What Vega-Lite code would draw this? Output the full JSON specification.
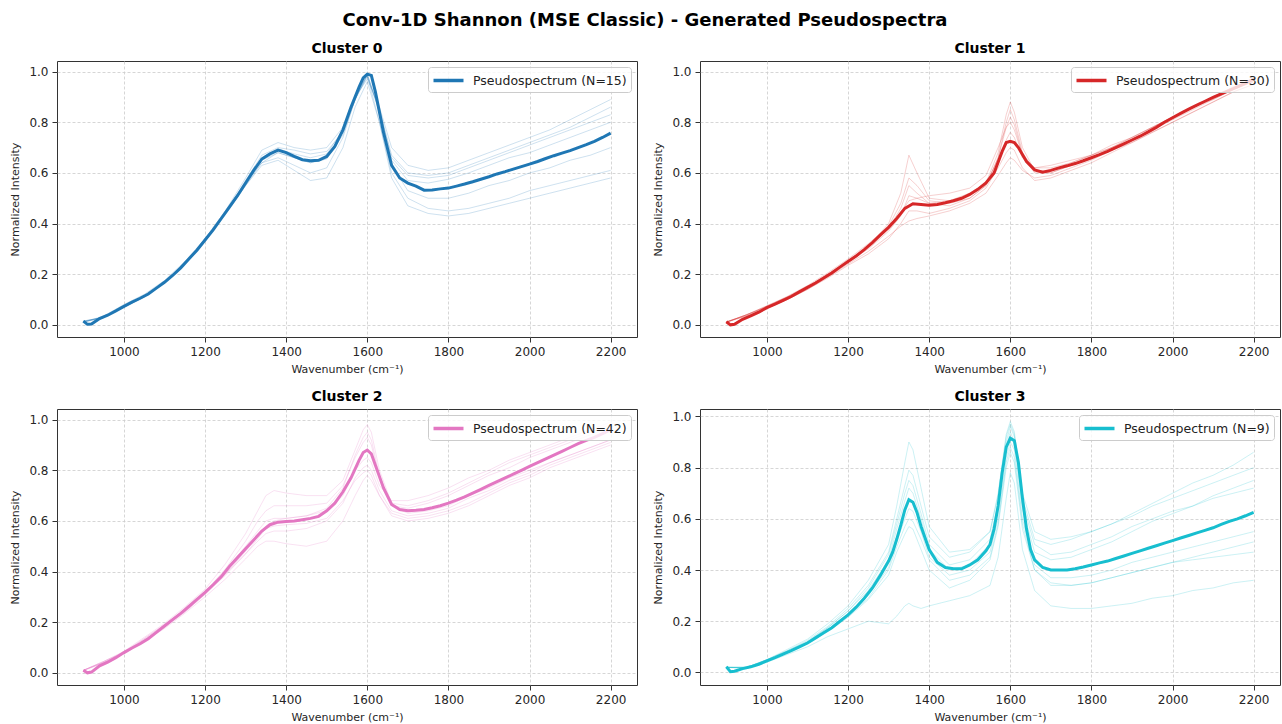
{
"$schema": "https://vega.github.io/schema/vega-lite/v6.json",
"background": "white",
"padding": {"left": 9, "top": 11, "right": 2, "bottom": 2},
"title": {"text": "Conv-1D Shannon (MSE Classic) - Generated Pseudospectra", "fontSize": 18, "anchor": "middle", "offset": 12},
"columns": 2,
"spacing": {"row": 14, "column": 14},
"resolve": {"scale": {"color": "independent"}, "legend": {"color": "independent"}},
"datasets": {
"m0": [{"x":900,"y":0.015},{"x":910,"y":0.002},{"x":920,"y":0.003},{"x":940,"y":0.025},{"x":960,"y":0.038},{"x":980,"y":0.055},{"x":1000,"y":0.073},{"x":1020,"y":0.09},{"x":1040,"y":0.105},{"x":1060,"y":0.122},{"x":1080,"y":0.145},{"x":1100,"y":0.168},{"x":1120,"y":0.195},{"x":1140,"y":0.225},{"x":1160,"y":0.26},{"x":1180,"y":0.295},{"x":1200,"y":0.335},{"x":1220,"y":0.375},{"x":1240,"y":0.42},{"x":1260,"y":0.465},{"x":1280,"y":0.51},{"x":1300,"y":0.56},{"x":1320,"y":0.61},{"x":1340,"y":0.655},{"x":1360,"y":0.675},{"x":1380,"y":0.69},{"x":1400,"y":0.68},{"x":1420,"y":0.665},{"x":1440,"y":0.652},{"x":1460,"y":0.648},{"x":1480,"y":0.65},{"x":1500,"y":0.665},{"x":1520,"y":0.705},{"x":1540,"y":0.77},{"x":1560,"y":0.86},{"x":1580,"y":0.94},{"x":1590,"y":0.975},{"x":1600,"y":0.99},{"x":1610,"y":0.985},{"x":1620,"y":0.92},{"x":1640,"y":0.76},{"x":1660,"y":0.63},{"x":1680,"y":0.58},{"x":1700,"y":0.56},{"x":1720,"y":0.548},{"x":1740,"y":0.532},{"x":1760,"y":0.533},{"x":1780,"y":0.537},{"x":1800,"y":0.54},{"x":1820,"y":0.548},{"x":1840,"y":0.556},{"x":1860,"y":0.565},{"x":1880,"y":0.575},{"x":1900,"y":0.585},{"x":1920,"y":0.596},{"x":1940,"y":0.605},{"x":1960,"y":0.615},{"x":1980,"y":0.625},{"x":2000,"y":0.635},{"x":2020,"y":0.645},{"x":2040,"y":0.657},{"x":2060,"y":0.668},{"x":2080,"y":0.678},{"x":2100,"y":0.688},{"x":2120,"y":0.7},{"x":2140,"y":0.712},{"x":2160,"y":0.725},{"x":2180,"y":0.74},{"x":2200,"y":0.757}],
"f0": [
{"s":"a","x":900,"y":0.01},{"s":"a","x":950,"y":0.035},{"s":"a","x":1000,"y":0.08},{"s":"a","x":1050,"y":0.12},{"s":"a","x":1100,"y":0.175},{"s":"a","x":1150,"y":0.25},{"s":"a","x":1200,"y":0.34},{"s":"a","x":1250,"y":0.45},{"s":"a","x":1300,"y":0.58},{"s":"a","x":1340,"y":0.69},{"s":"a","x":1380,"y":0.72},{"s":"a","x":1420,"y":0.7},{"s":"a","x":1460,"y":0.69},{"s":"a","x":1500,"y":0.7},{"s":"a","x":1540,"y":0.78},{"s":"a","x":1570,"y":0.9},{"s":"a","x":1600,"y":0.97},{"s":"a","x":1630,"y":0.86},{"s":"a","x":1660,"y":0.7},{"s":"a","x":1700,"y":0.63},{"s":"a","x":1750,"y":0.61},{"s":"a","x":1800,"y":0.62},{"s":"a","x":1850,"y":0.65},{"s":"a","x":1900,"y":0.68},{"s":"a","x":1950,"y":0.71},{"s":"a","x":2000,"y":0.74},{"s":"a","x":2050,"y":0.77},{"s":"a","x":2100,"y":0.81},{"s":"a","x":2150,"y":0.85},{"s":"a","x":2200,"y":0.89},
{"s":"b","x":900,"y":0.012},{"s":"b","x":950,"y":0.03},{"s":"b","x":1000,"y":0.075},{"s":"b","x":1050,"y":0.115},{"s":"b","x":1100,"y":0.17},{"s":"b","x":1150,"y":0.245},{"s":"b","x":1200,"y":0.335},{"s":"b","x":1250,"y":0.44},{"s":"b","x":1300,"y":0.57},{"s":"b","x":1340,"y":0.67},{"s":"b","x":1380,"y":0.7},{"s":"b","x":1420,"y":0.69},{"s":"b","x":1460,"y":0.675},{"s":"b","x":1500,"y":0.685},{"s":"b","x":1540,"y":0.76},{"s":"b","x":1570,"y":0.89},{"s":"b","x":1600,"y":0.98},{"s":"b","x":1630,"y":0.85},{"s":"b","x":1660,"y":0.67},{"s":"b","x":1700,"y":0.6},{"s":"b","x":1750,"y":0.59},{"s":"b","x":1800,"y":0.6},{"s":"b","x":1850,"y":0.63},{"s":"b","x":1900,"y":0.66},{"s":"b","x":1950,"y":0.69},{"s":"b","x":2000,"y":0.72},{"s":"b","x":2050,"y":0.75},{"s":"b","x":2100,"y":0.78},{"s":"b","x":2150,"y":0.82},{"s":"b","x":2200,"y":0.86},
{"s":"c","x":900,"y":0.015},{"s":"c","x":950,"y":0.03},{"s":"c","x":1000,"y":0.07},{"s":"c","x":1050,"y":0.11},{"s":"c","x":1100,"y":0.165},{"s":"c","x":1150,"y":0.24},{"s":"c","x":1200,"y":0.33},{"s":"c","x":1250,"y":0.44},{"s":"c","x":1300,"y":0.55},{"s":"c","x":1340,"y":0.64},{"s":"c","x":1380,"y":0.68},{"s":"c","x":1420,"y":0.66},{"s":"c","x":1460,"y":0.64},{"s":"c","x":1500,"y":0.655},{"s":"c","x":1540,"y":0.75},{"s":"c","x":1570,"y":0.89},{"s":"c","x":1600,"y":0.99},{"s":"c","x":1630,"y":0.84},{"s":"c","x":1660,"y":0.65},{"s":"c","x":1700,"y":0.57},{"s":"c","x":1750,"y":0.56},{"s":"c","x":1800,"y":0.575},{"s":"c","x":1850,"y":0.6},{"s":"c","x":1900,"y":0.63},{"s":"c","x":1950,"y":0.66},{"s":"c","x":2000,"y":0.68},{"s":"c","x":2050,"y":0.71},{"s":"c","x":2100,"y":0.74},{"s":"c","x":2150,"y":0.77},{"s":"c","x":2200,"y":0.8},
{"s":"d","x":900,"y":0.01},{"s":"d","x":950,"y":0.03},{"s":"d","x":1000,"y":0.07},{"s":"d","x":1050,"y":0.11},{"s":"d","x":1100,"y":0.165},{"s":"d","x":1150,"y":0.245},{"s":"d","x":1200,"y":0.34},{"s":"d","x":1250,"y":0.45},{"s":"d","x":1300,"y":0.56},{"s":"d","x":1340,"y":0.64},{"s":"d","x":1380,"y":0.66},{"s":"d","x":1420,"y":0.63},{"s":"d","x":1460,"y":0.6},{"s":"d","x":1500,"y":0.62},{"s":"d","x":1540,"y":0.74},{"s":"d","x":1570,"y":0.89},{"s":"d","x":1600,"y":0.985},{"s":"d","x":1630,"y":0.8},{"s":"d","x":1660,"y":0.58},{"s":"d","x":1700,"y":0.47},{"s":"d","x":1750,"y":0.44},{"s":"d","x":1800,"y":0.43},{"s":"d","x":1850,"y":0.44},{"s":"d","x":1900,"y":0.46},{"s":"d","x":1950,"y":0.48},{"s":"d","x":2000,"y":0.5},{"s":"d","x":2050,"y":0.52},{"s":"d","x":2100,"y":0.54},{"s":"d","x":2150,"y":0.56},{"s":"d","x":2200,"y":0.58},
{"s":"e","x":900,"y":0.012},{"s":"e","x":950,"y":0.028},{"s":"e","x":1000,"y":0.072},{"s":"e","x":1050,"y":0.112},{"s":"e","x":1100,"y":0.168},{"s":"e","x":1150,"y":0.24},{"s":"e","x":1200,"y":0.33},{"s":"e","x":1250,"y":0.435},{"s":"e","x":1300,"y":0.55},{"s":"e","x":1340,"y":0.63},{"s":"e","x":1380,"y":0.65},{"s":"e","x":1420,"y":0.61},{"s":"e","x":1460,"y":0.57},{"s":"e","x":1500,"y":0.58},{"s":"e","x":1540,"y":0.7},{"s":"e","x":1570,"y":0.86},{"s":"e","x":1600,"y":0.96},{"s":"e","x":1630,"y":0.8},{"s":"e","x":1660,"y":0.6},{"s":"e","x":1700,"y":0.5},{"s":"e","x":1750,"y":0.46},{"s":"e","x":1800,"y":0.45},{"s":"e","x":1850,"y":0.46},{"s":"e","x":1900,"y":0.48},{"s":"e","x":1950,"y":0.5},{"s":"e","x":2000,"y":0.53},{"s":"e","x":2050,"y":0.55},{"s":"e","x":2100,"y":0.57},{"s":"e","x":2150,"y":0.59},{"s":"e","x":2200,"y":0.61},
{"s":"f","x":900,"y":0.015},{"s":"f","x":950,"y":0.03},{"s":"f","x":1000,"y":0.074},{"s":"f","x":1050,"y":0.114},{"s":"f","x":1100,"y":0.17},{"s":"f","x":1150,"y":0.244},{"s":"f","x":1200,"y":0.336},{"s":"f","x":1250,"y":0.445},{"s":"f","x":1300,"y":0.565},{"s":"f","x":1340,"y":0.66},{"s":"f","x":1380,"y":0.695},{"s":"f","x":1420,"y":0.675},{"s":"f","x":1460,"y":0.66},{"s":"f","x":1500,"y":0.675},{"s":"f","x":1540,"y":0.77},{"s":"f","x":1570,"y":0.9},{"s":"f","x":1600,"y":0.99},{"s":"f","x":1630,"y":0.85},{"s":"f","x":1660,"y":0.66},{"s":"f","x":1700,"y":0.59},{"s":"f","x":1750,"y":0.58},{"s":"f","x":1800,"y":0.59},{"s":"f","x":1850,"y":0.62},{"s":"f","x":1900,"y":0.65},{"s":"f","x":1950,"y":0.68},{"s":"f","x":2000,"y":0.71},{"s":"f","x":2050,"y":0.74},{"s":"f","x":2100,"y":0.77},{"s":"f","x":2150,"y":0.8},{"s":"f","x":2200,"y":0.83},
{"s":"g","x":900,"y":0.013},{"s":"g","x":950,"y":0.03},{"s":"g","x":1000,"y":0.073},{"s":"g","x":1050,"y":0.113},{"s":"g","x":1100,"y":0.167},{"s":"g","x":1150,"y":0.24},{"s":"g","x":1200,"y":0.335},{"s":"g","x":1250,"y":0.44},{"s":"g","x":1300,"y":0.555},{"s":"g","x":1340,"y":0.65},{"s":"g","x":1380,"y":0.68},{"s":"g","x":1420,"y":0.66},{"s":"g","x":1460,"y":0.64},{"s":"g","x":1500,"y":0.66},{"s":"g","x":1540,"y":0.76},{"s":"g","x":1570,"y":0.9},{"s":"g","x":1600,"y":0.985},{"s":"g","x":1630,"y":0.84},{"s":"g","x":1660,"y":0.63},{"s":"g","x":1700,"y":0.53},{"s":"g","x":1750,"y":0.5},{"s":"g","x":1800,"y":0.5},{"s":"g","x":1850,"y":0.52},{"s":"g","x":1900,"y":0.55},{"s":"g","x":1950,"y":0.57},{"s":"g","x":2000,"y":0.6},{"s":"g","x":2050,"y":0.62},{"s":"g","x":2100,"y":0.65},{"s":"g","x":2150,"y":0.67},{"s":"g","x":2200,"y":0.7}
],
"m1": [{"x":900,"y":0.012},{"x":910,"y":0.0},{"x":920,"y":0.002},{"x":940,"y":0.022},{"x":960,"y":0.035},{"x":980,"y":0.05},{"x":1000,"y":0.068},{"x":1020,"y":0.082},{"x":1040,"y":0.097},{"x":1060,"y":0.112},{"x":1080,"y":0.13},{"x":1100,"y":0.148},{"x":1120,"y":0.165},{"x":1140,"y":0.185},{"x":1160,"y":0.205},{"x":1180,"y":0.228},{"x":1200,"y":0.25},{"x":1220,"y":0.272},{"x":1240,"y":0.297},{"x":1260,"y":0.325},{"x":1280,"y":0.355},{"x":1300,"y":0.385},{"x":1320,"y":0.42},{"x":1340,"y":0.46},{"x":1360,"y":0.478},{"x":1380,"y":0.475},{"x":1400,"y":0.472},{"x":1420,"y":0.475},{"x":1440,"y":0.482},{"x":1460,"y":0.49},{"x":1480,"y":0.5},{"x":1500,"y":0.515},{"x":1520,"y":0.535},{"x":1540,"y":0.56},{"x":1560,"y":0.6},{"x":1580,"y":0.685},{"x":1590,"y":0.72},{"x":1600,"y":0.725},{"x":1610,"y":0.72},{"x":1620,"y":0.7},{"x":1640,"y":0.645},{"x":1660,"y":0.612},{"x":1680,"y":0.603},{"x":1700,"y":0.61},{"x":1720,"y":0.62},{"x":1740,"y":0.628},{"x":1760,"y":0.637},{"x":1780,"y":0.648},{"x":1800,"y":0.66},{"x":1820,"y":0.672},{"x":1840,"y":0.685},{"x":1860,"y":0.7},{"x":1880,"y":0.715},{"x":1900,"y":0.73},{"x":1920,"y":0.745},{"x":1940,"y":0.762},{"x":1960,"y":0.78},{"x":1980,"y":0.8},{"x":2000,"y":0.818},{"x":2020,"y":0.835},{"x":2040,"y":0.852},{"x":2060,"y":0.868},{"x":2080,"y":0.883},{"x":2100,"y":0.898},{"x":2120,"y":0.912},{"x":2140,"y":0.926},{"x":2160,"y":0.94},{"x":2180,"y":0.955},{"x":2200,"y":0.97}],
"f1": [
{"s":"a","x":900,"y":0.01},{"s":"a","x":950,"y":0.04},{"s":"a","x":1000,"y":0.075},{"s":"a","x":1050,"y":0.11},{"s":"a","x":1100,"y":0.15},{"s":"a","x":1150,"y":0.2},{"s":"a","x":1200,"y":0.25},{"s":"a","x":1250,"y":0.31},{"s":"a","x":1300,"y":0.4},{"s":"a","x":1330,"y":0.52},{"s":"a","x":1350,"y":0.67},{"s":"a","x":1370,"y":0.6},{"s":"a","x":1400,"y":0.5},{"s":"a","x":1450,"y":0.49},{"s":"a","x":1500,"y":0.51},{"s":"a","x":1540,"y":0.56},{"s":"a","x":1570,"y":0.68},{"s":"a","x":1590,"y":0.83},{"s":"a","x":1600,"y":0.88},{"s":"a","x":1610,"y":0.84},{"s":"a","x":1630,"y":0.7},{"s":"a","x":1660,"y":0.61},{"s":"a","x":1700,"y":0.6},{"s":"a","x":1750,"y":0.63},{"s":"a","x":1800,"y":0.66},{"s":"a","x":1850,"y":0.69},{"s":"a","x":1900,"y":0.73},{"s":"a","x":1950,"y":0.77},{"s":"a","x":2000,"y":0.82},{"s":"a","x":2050,"y":0.86},{"s":"a","x":2100,"y":0.9},{"s":"a","x":2150,"y":0.94},{"s":"a","x":2200,"y":0.97},
{"s":"b","x":900,"y":0.012},{"s":"b","x":950,"y":0.038},{"s":"b","x":1000,"y":0.072},{"s":"b","x":1050,"y":0.108},{"s":"b","x":1100,"y":0.148},{"s":"b","x":1150,"y":0.198},{"s":"b","x":1200,"y":0.25},{"s":"b","x":1250,"y":0.31},{"s":"b","x":1300,"y":0.39},{"s":"b","x":1330,"y":0.48},{"s":"b","x":1350,"y":0.58},{"s":"b","x":1370,"y":0.55},{"s":"b","x":1400,"y":0.49},{"s":"b","x":1450,"y":0.48},{"s":"b","x":1500,"y":0.5},{"s":"b","x":1540,"y":0.55},{"s":"b","x":1570,"y":0.66},{"s":"b","x":1590,"y":0.78},{"s":"b","x":1600,"y":0.82},{"s":"b","x":1610,"y":0.79},{"s":"b","x":1630,"y":0.67},{"s":"b","x":1660,"y":0.6},{"s":"b","x":1700,"y":0.6},{"s":"b","x":1750,"y":0.63},{"s":"b","x":1800,"y":0.66},{"s":"b","x":1850,"y":0.7},{"s":"b","x":1900,"y":0.74},{"s":"b","x":1950,"y":0.78},{"s":"b","x":2000,"y":0.82},{"s":"b","x":2050,"y":0.86},{"s":"b","x":2100,"y":0.9},{"s":"b","x":2150,"y":0.93},{"s":"b","x":2200,"y":0.96},
{"s":"c","x":900,"y":0.012},{"s":"c","x":950,"y":0.035},{"s":"c","x":1000,"y":0.068},{"s":"c","x":1050,"y":0.1},{"s":"c","x":1100,"y":0.14},{"s":"c","x":1150,"y":0.19},{"s":"c","x":1200,"y":0.24},{"s":"c","x":1250,"y":0.29},{"s":"c","x":1300,"y":0.35},{"s":"c","x":1330,"y":0.39},{"s":"c","x":1350,"y":0.41},{"s":"c","x":1370,"y":0.42},{"s":"c","x":1400,"y":0.43},{"s":"c","x":1450,"y":0.45},{"s":"c","x":1500,"y":0.48},{"s":"c","x":1540,"y":0.52},{"s":"c","x":1570,"y":0.59},{"s":"c","x":1590,"y":0.64},{"s":"c","x":1600,"y":0.66},{"s":"c","x":1610,"y":0.65},{"s":"c","x":1630,"y":0.61},{"s":"c","x":1660,"y":0.58},{"s":"c","x":1700,"y":0.59},{"s":"c","x":1750,"y":0.62},{"s":"c","x":1800,"y":0.65},{"s":"c","x":1850,"y":0.69},{"s":"c","x":1900,"y":0.72},{"s":"c","x":1950,"y":0.76},{"s":"c","x":2000,"y":0.8},{"s":"c","x":2050,"y":0.84},{"s":"c","x":2100,"y":0.88},{"s":"c","x":2150,"y":0.92},{"s":"c","x":2200,"y":0.95},
{"s":"d","x":900,"y":0.01},{"s":"d","x":950,"y":0.04},{"s":"d","x":1000,"y":0.07},{"s":"d","x":1050,"y":0.105},{"s":"d","x":1100,"y":0.145},{"s":"d","x":1150,"y":0.195},{"s":"d","x":1200,"y":0.25},{"s":"d","x":1250,"y":0.3},{"s":"d","x":1300,"y":0.37},{"s":"d","x":1330,"y":0.43},{"s":"d","x":1350,"y":0.51},{"s":"d","x":1370,"y":0.5},{"s":"d","x":1400,"y":0.48},{"s":"d","x":1450,"y":0.49},{"s":"d","x":1500,"y":0.52},{"s":"d","x":1540,"y":0.56},{"s":"d","x":1570,"y":0.65},{"s":"d","x":1590,"y":0.73},{"s":"d","x":1600,"y":0.76},{"s":"d","x":1610,"y":0.74},{"s":"d","x":1630,"y":0.66},{"s":"d","x":1660,"y":0.62},{"s":"d","x":1700,"y":0.62},{"s":"d","x":1750,"y":0.64},{"s":"d","x":1800,"y":0.67},{"s":"d","x":1850,"y":0.7},{"s":"d","x":1900,"y":0.73},{"s":"d","x":1950,"y":0.77},{"s":"d","x":2000,"y":0.81},{"s":"d","x":2050,"y":0.85},{"s":"d","x":2100,"y":0.89},{"s":"d","x":2150,"y":0.93},{"s":"d","x":2200,"y":0.96},
{"s":"e","x":900,"y":0.012},{"s":"e","x":950,"y":0.04},{"s":"e","x":1000,"y":0.075},{"s":"e","x":1050,"y":0.112},{"s":"e","x":1100,"y":0.155},{"s":"e","x":1150,"y":0.205},{"s":"e","x":1200,"y":0.26},{"s":"e","x":1250,"y":0.32},{"s":"e","x":1300,"y":0.39},{"s":"e","x":1330,"y":0.44},{"s":"e","x":1350,"y":0.49},{"s":"e","x":1370,"y":0.5},{"s":"e","x":1400,"y":0.51},{"s":"e","x":1450,"y":0.52},{"s":"e","x":1500,"y":0.54},{"s":"e","x":1540,"y":0.59},{"s":"e","x":1570,"y":0.7},{"s":"e","x":1590,"y":0.78},{"s":"e","x":1600,"y":0.8},{"s":"e","x":1610,"y":0.77},{"s":"e","x":1630,"y":0.67},{"s":"e","x":1660,"y":0.62},{"s":"e","x":1700,"y":0.63},{"s":"e","x":1750,"y":0.65},{"s":"e","x":1800,"y":0.67},{"s":"e","x":1850,"y":0.71},{"s":"e","x":1900,"y":0.74},{"s":"e","x":1950,"y":0.78},{"s":"e","x":2000,"y":0.82},{"s":"e","x":2050,"y":0.86},{"s":"e","x":2100,"y":0.89},{"s":"e","x":2150,"y":0.93},{"s":"e","x":2200,"y":0.96},
{"s":"f","x":900,"y":0.01},{"s":"f","x":950,"y":0.035},{"s":"f","x":1000,"y":0.065},{"s":"f","x":1050,"y":0.1},{"s":"f","x":1100,"y":0.14},{"s":"f","x":1150,"y":0.185},{"s":"f","x":1200,"y":0.235},{"s":"f","x":1250,"y":0.28},{"s":"f","x":1300,"y":0.34},{"s":"f","x":1330,"y":0.4},{"s":"f","x":1350,"y":0.45},{"s":"f","x":1370,"y":0.45},{"s":"f","x":1400,"y":0.44},{"s":"f","x":1450,"y":0.46},{"s":"f","x":1500,"y":0.49},{"s":"f","x":1540,"y":0.54},{"s":"f","x":1570,"y":0.62},{"s":"f","x":1590,"y":0.68},{"s":"f","x":1600,"y":0.7},{"s":"f","x":1610,"y":0.69},{"s":"f","x":1630,"y":0.62},{"s":"f","x":1660,"y":0.57},{"s":"f","x":1700,"y":0.58},{"s":"f","x":1750,"y":0.61},{"s":"f","x":1800,"y":0.64},{"s":"f","x":1850,"y":0.68},{"s":"f","x":1900,"y":0.72},{"s":"f","x":1950,"y":0.76},{"s":"f","x":2000,"y":0.8},{"s":"f","x":2050,"y":0.84},{"s":"f","x":2100,"y":0.88},{"s":"f","x":2150,"y":0.92},{"s":"f","x":2200,"y":0.95},
{"s":"g","x":900,"y":0.01},{"s":"g","x":950,"y":0.04},{"s":"g","x":1000,"y":0.072},{"s":"g","x":1050,"y":0.11},{"s":"g","x":1100,"y":0.15},{"s":"g","x":1150,"y":0.2},{"s":"g","x":1200,"y":0.255},{"s":"g","x":1250,"y":0.31},{"s":"g","x":1300,"y":0.38},{"s":"g","x":1330,"y":0.46},{"s":"g","x":1350,"y":0.55},{"s":"g","x":1370,"y":0.52},{"s":"g","x":1400,"y":0.48},{"s":"g","x":1450,"y":0.47},{"s":"g","x":1500,"y":0.5},{"s":"g","x":1540,"y":0.55},{"s":"g","x":1570,"y":0.66},{"s":"g","x":1590,"y":0.8},{"s":"g","x":1600,"y":0.85},{"s":"g","x":1610,"y":0.81},{"s":"g","x":1630,"y":0.68},{"s":"g","x":1660,"y":0.61},{"s":"g","x":1700,"y":0.61},{"s":"g","x":1750,"y":0.64},{"s":"g","x":1800,"y":0.67},{"s":"g","x":1850,"y":0.7},{"s":"g","x":1900,"y":0.74},{"s":"g","x":1950,"y":0.78},{"s":"g","x":2000,"y":0.82},{"s":"g","x":2050,"y":0.86},{"s":"g","x":2100,"y":0.9},{"s":"g","x":2150,"y":0.94},{"s":"g","x":2200,"y":0.97}
],
"m2": [{"x":900,"y":0.01},{"x":910,"y":0.0},{"x":920,"y":0.003},{"x":940,"y":0.028},{"x":960,"y":0.042},{"x":980,"y":0.06},{"x":1000,"y":0.08},{"x":1020,"y":0.098},{"x":1040,"y":0.115},{"x":1060,"y":0.135},{"x":1080,"y":0.16},{"x":1100,"y":0.185},{"x":1120,"y":0.21},{"x":1140,"y":0.235},{"x":1160,"y":0.262},{"x":1180,"y":0.29},{"x":1200,"y":0.318},{"x":1220,"y":0.348},{"x":1240,"y":0.38},{"x":1260,"y":0.42},{"x":1280,"y":0.455},{"x":1300,"y":0.49},{"x":1320,"y":0.525},{"x":1340,"y":0.56},{"x":1360,"y":0.585},{"x":1380,"y":0.595},{"x":1400,"y":0.598},{"x":1420,"y":0.6},{"x":1440,"y":0.605},{"x":1460,"y":0.61},{"x":1480,"y":0.618},{"x":1500,"y":0.64},{"x":1520,"y":0.67},{"x":1540,"y":0.715},{"x":1560,"y":0.77},{"x":1580,"y":0.84},{"x":1590,"y":0.87},{"x":1600,"y":0.88},{"x":1610,"y":0.865},{"x":1620,"y":0.82},{"x":1640,"y":0.73},{"x":1660,"y":0.665},{"x":1680,"y":0.645},{"x":1700,"y":0.64},{"x":1720,"y":0.642},{"x":1740,"y":0.645},{"x":1760,"y":0.652},{"x":1780,"y":0.66},{"x":1800,"y":0.67},{"x":1820,"y":0.682},{"x":1840,"y":0.695},{"x":1860,"y":0.71},{"x":1880,"y":0.725},{"x":1900,"y":0.74},{"x":1920,"y":0.755},{"x":1940,"y":0.77},{"x":1960,"y":0.785},{"x":1980,"y":0.8},{"x":2000,"y":0.815},{"x":2020,"y":0.83},{"x":2040,"y":0.845},{"x":2060,"y":0.86},{"x":2080,"y":0.875},{"x":2100,"y":0.89},{"x":2120,"y":0.905},{"x":2140,"y":0.918},{"x":2160,"y":0.93},{"x":2180,"y":0.945},{"x":2200,"y":0.96}],
"f2": [
{"s":"a","x":900,"y":0.01},{"s":"a","x":950,"y":0.045},{"s":"a","x":1000,"y":0.085},{"s":"a","x":1050,"y":0.14},{"s":"a","x":1100,"y":0.195},{"s":"a","x":1150,"y":0.26},{"s":"a","x":1200,"y":0.33},{"s":"a","x":1250,"y":0.43},{"s":"a","x":1300,"y":0.55},{"s":"a","x":1330,"y":0.64},{"s":"a","x":1350,"y":0.7},{"s":"a","x":1370,"y":0.72},{"s":"a","x":1400,"y":0.71},{"s":"a","x":1450,"y":0.7},{"s":"a","x":1500,"y":0.7},{"s":"a","x":1540,"y":0.76},{"s":"a","x":1570,"y":0.88},{"s":"a","x":1590,"y":0.96},{"s":"a","x":1600,"y":0.98},{"s":"a","x":1610,"y":0.95},{"s":"a","x":1630,"y":0.8},{"s":"a","x":1660,"y":0.67},{"s":"a","x":1700,"y":0.66},{"s":"a","x":1750,"y":0.68},{"s":"a","x":1800,"y":0.71},{"s":"a","x":1850,"y":0.75},{"s":"a","x":1900,"y":0.79},{"s":"a","x":1950,"y":0.83},{"s":"a","x":2000,"y":0.86},{"s":"a","x":2050,"y":0.89},{"s":"a","x":2100,"y":0.92},{"s":"a","x":2150,"y":0.95},{"s":"a","x":2200,"y":0.98},
{"s":"b","x":900,"y":0.008},{"s":"b","x":950,"y":0.04},{"s":"b","x":1000,"y":0.075},{"s":"b","x":1050,"y":0.125},{"s":"b","x":1100,"y":0.175},{"s":"b","x":1150,"y":0.235},{"s":"b","x":1200,"y":0.3},{"s":"b","x":1250,"y":0.37},{"s":"b","x":1300,"y":0.45},{"s":"b","x":1330,"y":0.5},{"s":"b","x":1350,"y":0.52},{"s":"b","x":1370,"y":0.52},{"s":"b","x":1400,"y":0.51},{"s":"b","x":1450,"y":0.5},{"s":"b","x":1500,"y":0.52},{"s":"b","x":1540,"y":0.6},{"s":"b","x":1570,"y":0.7},{"s":"b","x":1590,"y":0.76},{"s":"b","x":1600,"y":0.78},{"s":"b","x":1610,"y":0.76},{"s":"b","x":1630,"y":0.7},{"s":"b","x":1660,"y":0.63},{"s":"b","x":1700,"y":0.61},{"s":"b","x":1750,"y":0.62},{"s":"b","x":1800,"y":0.64},{"s":"b","x":1850,"y":0.67},{"s":"b","x":1900,"y":0.71},{"s":"b","x":1950,"y":0.75},{"s":"b","x":2000,"y":0.78},{"s":"b","x":2050,"y":0.82},{"s":"b","x":2100,"y":0.85},{"s":"b","x":2150,"y":0.88},{"s":"b","x":2200,"y":0.91},
{"s":"c","x":900,"y":0.01},{"s":"c","x":950,"y":0.045},{"s":"c","x":1000,"y":0.08},{"s":"c","x":1050,"y":0.135},{"s":"c","x":1100,"y":0.19},{"s":"c","x":1150,"y":0.25},{"s":"c","x":1200,"y":0.32},{"s":"c","x":1250,"y":0.41},{"s":"c","x":1300,"y":0.52},{"s":"c","x":1330,"y":0.6},{"s":"c","x":1350,"y":0.64},{"s":"c","x":1370,"y":0.66},{"s":"c","x":1400,"y":0.66},{"s":"c","x":1450,"y":0.66},{"s":"c","x":1500,"y":0.67},{"s":"c","x":1540,"y":0.74},{"s":"c","x":1570,"y":0.85},{"s":"c","x":1590,"y":0.91},{"s":"c","x":1600,"y":0.93},{"s":"c","x":1610,"y":0.9},{"s":"c","x":1630,"y":0.77},{"s":"c","x":1660,"y":0.66},{"s":"c","x":1700,"y":0.65},{"s":"c","x":1750,"y":0.67},{"s":"c","x":1800,"y":0.7},{"s":"c","x":1850,"y":0.74},{"s":"c","x":1900,"y":0.78},{"s":"c","x":1950,"y":0.81},{"s":"c","x":2000,"y":0.85},{"s":"c","x":2050,"y":0.88},{"s":"c","x":2100,"y":0.91},{"s":"c","x":2150,"y":0.94},{"s":"c","x":2200,"y":0.97},
{"s":"d","x":900,"y":0.01},{"s":"d","x":950,"y":0.04},{"s":"d","x":1000,"y":0.078},{"s":"d","x":1050,"y":0.13},{"s":"d","x":1100,"y":0.18},{"s":"d","x":1150,"y":0.24},{"s":"d","x":1200,"y":0.31},{"s":"d","x":1250,"y":0.39},{"s":"d","x":1300,"y":0.47},{"s":"d","x":1330,"y":0.52},{"s":"d","x":1350,"y":0.55},{"s":"d","x":1370,"y":0.56},{"s":"d","x":1400,"y":0.56},{"s":"d","x":1450,"y":0.57},{"s":"d","x":1500,"y":0.6},{"s":"d","x":1540,"y":0.67},{"s":"d","x":1570,"y":0.77},{"s":"d","x":1590,"y":0.81},{"s":"d","x":1600,"y":0.82},{"s":"d","x":1610,"y":0.8},{"s":"d","x":1630,"y":0.72},{"s":"d","x":1660,"y":0.64},{"s":"d","x":1700,"y":0.62},{"s":"d","x":1750,"y":0.63},{"s":"d","x":1800,"y":0.65},{"s":"d","x":1850,"y":0.69},{"s":"d","x":1900,"y":0.72},{"s":"d","x":1950,"y":0.76},{"s":"d","x":2000,"y":0.79},{"s":"d","x":2050,"y":0.83},{"s":"d","x":2100,"y":0.86},{"s":"d","x":2150,"y":0.89},{"s":"d","x":2200,"y":0.92},
{"s":"e","x":900,"y":0.01},{"s":"e","x":950,"y":0.045},{"s":"e","x":1000,"y":0.082},{"s":"e","x":1050,"y":0.135},{"s":"e","x":1100,"y":0.19},{"s":"e","x":1150,"y":0.25},{"s":"e","x":1200,"y":0.32},{"s":"e","x":1250,"y":0.4},{"s":"e","x":1300,"y":0.5},{"s":"e","x":1330,"y":0.56},{"s":"e","x":1350,"y":0.6},{"s":"e","x":1370,"y":0.61},{"s":"e","x":1400,"y":0.61},{"s":"e","x":1450,"y":0.62},{"s":"e","x":1500,"y":0.64},{"s":"e","x":1540,"y":0.7},{"s":"e","x":1570,"y":0.8},{"s":"e","x":1590,"y":0.84},{"s":"e","x":1600,"y":0.85},{"s":"e","x":1610,"y":0.83},{"s":"e","x":1630,"y":0.74},{"s":"e","x":1660,"y":0.68},{"s":"e","x":1700,"y":0.68},{"s":"e","x":1750,"y":0.7},{"s":"e","x":1800,"y":0.73},{"s":"e","x":1850,"y":0.77},{"s":"e","x":1900,"y":0.8},{"s":"e","x":1950,"y":0.84},{"s":"e","x":2000,"y":0.87},{"s":"e","x":2050,"y":0.9},{"s":"e","x":2100,"y":0.93},{"s":"e","x":2150,"y":0.96},{"s":"e","x":2200,"y":0.99},
{"s":"f","x":900,"y":0.01},{"s":"f","x":950,"y":0.042},{"s":"f","x":1000,"y":0.08},{"s":"f","x":1050,"y":0.13},{"s":"f","x":1100,"y":0.185},{"s":"f","x":1150,"y":0.245},{"s":"f","x":1200,"y":0.315},{"s":"f","x":1250,"y":0.39},{"s":"f","x":1300,"y":0.48},{"s":"f","x":1330,"y":0.54},{"s":"f","x":1350,"y":0.58},{"s":"f","x":1370,"y":0.6},{"s":"f","x":1400,"y":0.61},{"s":"f","x":1450,"y":0.62},{"s":"f","x":1500,"y":0.65},{"s":"f","x":1540,"y":0.73},{"s":"f","x":1570,"y":0.86},{"s":"f","x":1590,"y":0.93},{"s":"f","x":1600,"y":0.95},{"s":"f","x":1610,"y":0.92},{"s":"f","x":1630,"y":0.78},{"s":"f","x":1660,"y":0.66},{"s":"f","x":1700,"y":0.63},{"s":"f","x":1750,"y":0.64},{"s":"f","x":1800,"y":0.66},{"s":"f","x":1850,"y":0.7},{"s":"f","x":1900,"y":0.73},{"s":"f","x":1950,"y":0.77},{"s":"f","x":2000,"y":0.8},{"s":"f","x":2050,"y":0.83},{"s":"f","x":2100,"y":0.86},{"s":"f","x":2150,"y":0.89},{"s":"f","x":2200,"y":0.92},
{"s":"g","x":900,"y":0.01},{"s":"g","x":950,"y":0.04},{"s":"g","x":1000,"y":0.078},{"s":"g","x":1050,"y":0.13},{"s":"g","x":1100,"y":0.182},{"s":"g","x":1150,"y":0.24},{"s":"g","x":1200,"y":0.31},{"s":"g","x":1250,"y":0.385},{"s":"g","x":1300,"y":0.47},{"s":"g","x":1330,"y":0.53},{"s":"g","x":1350,"y":0.57},{"s":"g","x":1370,"y":0.58},{"s":"g","x":1400,"y":0.585},{"s":"g","x":1450,"y":0.59},{"s":"g","x":1500,"y":0.61},{"s":"g","x":1540,"y":0.68},{"s":"g","x":1570,"y":0.76},{"s":"g","x":1590,"y":0.79},{"s":"g","x":1600,"y":0.8},{"s":"g","x":1610,"y":0.78},{"s":"g","x":1630,"y":0.7},{"s":"g","x":1660,"y":0.62},{"s":"g","x":1700,"y":0.6},{"s":"g","x":1750,"y":0.61},{"s":"g","x":1800,"y":0.63},{"s":"g","x":1850,"y":0.66},{"s":"g","x":1900,"y":0.7},{"s":"g","x":1950,"y":0.74},{"s":"g","x":2000,"y":0.77},{"s":"g","x":2050,"y":0.81},{"s":"g","x":2100,"y":0.84},{"s":"g","x":2150,"y":0.87},{"s":"g","x":2200,"y":0.9}
],
"m3": [{"x":900,"y":0.022},{"x":910,"y":0.003},{"x":920,"y":0.005},{"x":940,"y":0.015},{"x":960,"y":0.022},{"x":980,"y":0.032},{"x":1000,"y":0.045},{"x":1020,"y":0.058},{"x":1040,"y":0.072},{"x":1060,"y":0.085},{"x":1080,"y":0.1},{"x":1100,"y":0.115},{"x":1120,"y":0.135},{"x":1140,"y":0.155},{"x":1160,"y":0.175},{"x":1180,"y":0.2},{"x":1200,"y":0.225},{"x":1220,"y":0.255},{"x":1240,"y":0.29},{"x":1260,"y":0.33},{"x":1280,"y":0.38},{"x":1300,"y":0.435},{"x":1310,"y":0.47},{"x":1320,"y":0.52},{"x":1330,"y":0.575},{"x":1340,"y":0.635},{"x":1350,"y":0.675},{"x":1360,"y":0.665},{"x":1370,"y":0.625},{"x":1380,"y":0.57},{"x":1400,"y":0.48},{"x":1420,"y":0.43},{"x":1440,"y":0.41},{"x":1460,"y":0.405},{"x":1480,"y":0.405},{"x":1500,"y":0.42},{"x":1520,"y":0.44},{"x":1540,"y":0.475},{"x":1550,"y":0.5},{"x":1560,"y":0.56},{"x":1570,"y":0.65},{"x":1580,"y":0.78},{"x":1590,"y":0.88},{"x":1600,"y":0.915},{"x":1610,"y":0.905},{"x":1620,"y":0.82},{"x":1630,"y":0.68},{"x":1640,"y":0.56},{"x":1650,"y":0.48},{"x":1660,"y":0.44},{"x":1680,"y":0.41},{"x":1700,"y":0.4},{"x":1720,"y":0.4},{"x":1740,"y":0.4},{"x":1760,"y":0.405},{"x":1780,"y":0.412},{"x":1800,"y":0.42},{"x":1820,"y":0.428},{"x":1840,"y":0.435},{"x":1860,"y":0.445},{"x":1880,"y":0.455},{"x":1900,"y":0.465},{"x":1920,"y":0.475},{"x":1940,"y":0.485},{"x":1960,"y":0.495},{"x":1980,"y":0.505},{"x":2000,"y":0.515},{"x":2020,"y":0.525},{"x":2040,"y":0.535},{"x":2060,"y":0.545},{"x":2080,"y":0.555},{"x":2100,"y":0.565},{"x":2120,"y":0.578},{"x":2140,"y":0.59},{"x":2160,"y":0.6},{"x":2180,"y":0.612},{"x":2200,"y":0.625}],
"f3": [
{"s":"a","x":900,"y":0.02},{"s":"a","x":950,"y":0.02},{"s":"a","x":1000,"y":0.05},{"s":"a","x":1050,"y":0.09},{"s":"a","x":1100,"y":0.13},{"s":"a","x":1150,"y":0.19},{"s":"a","x":1200,"y":0.26},{"s":"a","x":1250,"y":0.36},{"s":"a","x":1300,"y":0.5},{"s":"a","x":1320,"y":0.65},{"s":"a","x":1340,"y":0.82},{"s":"a","x":1350,"y":0.9},{"s":"a","x":1360,"y":0.87},{"s":"a","x":1380,"y":0.72},{"s":"a","x":1400,"y":0.57},{"s":"a","x":1450,"y":0.47},{"s":"a","x":1500,"y":0.48},{"s":"a","x":1550,"y":0.55},{"s":"a","x":1570,"y":0.7},{"s":"a","x":1590,"y":0.93},{"s":"a","x":1600,"y":0.98},{"s":"a","x":1610,"y":0.94},{"s":"a","x":1630,"y":0.7},{"s":"a","x":1660,"y":0.55},{"s":"a","x":1700,"y":0.52},{"s":"a","x":1750,"y":0.53},{"s":"a","x":1800,"y":0.55},{"s":"a","x":1850,"y":0.58},{"s":"a","x":1900,"y":0.62},{"s":"a","x":1950,"y":0.66},{"s":"a","x":2000,"y":0.7},{"s":"a","x":2050,"y":0.74},{"s":"a","x":2100,"y":0.77},{"s":"a","x":2150,"y":0.81},{"s":"a","x":2200,"y":0.86},
{"s":"b","x":900,"y":0.02},{"s":"b","x":950,"y":0.02},{"s":"b","x":1000,"y":0.05},{"s":"b","x":1050,"y":0.085},{"s":"b","x":1100,"y":0.125},{"s":"b","x":1150,"y":0.18},{"s":"b","x":1200,"y":0.25},{"s":"b","x":1250,"y":0.34},{"s":"b","x":1300,"y":0.47},{"s":"b","x":1320,"y":0.6},{"s":"b","x":1340,"y":0.73},{"s":"b","x":1350,"y":0.79},{"s":"b","x":1360,"y":0.77},{"s":"b","x":1380,"y":0.65},{"s":"b","x":1400,"y":0.53},{"s":"b","x":1450,"y":0.45},{"s":"b","x":1500,"y":0.47},{"s":"b","x":1550,"y":0.55},{"s":"b","x":1570,"y":0.69},{"s":"b","x":1590,"y":0.92},{"s":"b","x":1600,"y":0.97},{"s":"b","x":1610,"y":0.93},{"s":"b","x":1630,"y":0.68},{"s":"b","x":1660,"y":0.52},{"s":"b","x":1700,"y":0.5},{"s":"b","x":1750,"y":0.52},{"s":"b","x":1800,"y":0.55},{"s":"b","x":1850,"y":0.58},{"s":"b","x":1900,"y":0.61},{"s":"b","x":1950,"y":0.65},{"s":"b","x":2000,"y":0.68},{"s":"b","x":2050,"y":0.71},{"s":"b","x":2100,"y":0.74},{"s":"b","x":2150,"y":0.77},{"s":"b","x":2200,"y":0.8},
{"s":"c","x":900,"y":0.02},{"s":"c","x":950,"y":0.02},{"s":"c","x":1000,"y":0.048},{"s":"c","x":1050,"y":0.082},{"s":"c","x":1100,"y":0.12},{"s":"c","x":1150,"y":0.175},{"s":"c","x":1200,"y":0.24},{"s":"c","x":1250,"y":0.32},{"s":"c","x":1300,"y":0.44},{"s":"c","x":1320,"y":0.56},{"s":"c","x":1340,"y":0.67},{"s":"c","x":1350,"y":0.72},{"s":"c","x":1360,"y":0.7},{"s":"c","x":1380,"y":0.6},{"s":"c","x":1400,"y":0.48},{"s":"c","x":1450,"y":0.4},{"s":"c","x":1500,"y":0.42},{"s":"c","x":1550,"y":0.5},{"s":"c","x":1570,"y":0.64},{"s":"c","x":1590,"y":0.88},{"s":"c","x":1600,"y":0.94},{"s":"c","x":1610,"y":0.9},{"s":"c","x":1630,"y":0.64},{"s":"c","x":1660,"y":0.47},{"s":"c","x":1700,"y":0.44},{"s":"c","x":1750,"y":0.45},{"s":"c","x":1800,"y":0.48},{"s":"c","x":1850,"y":0.51},{"s":"c","x":1900,"y":0.55},{"s":"c","x":1950,"y":0.59},{"s":"c","x":2000,"y":0.62},{"s":"c","x":2050,"y":0.65},{"s":"c","x":2100,"y":0.69},{"s":"c","x":2150,"y":0.72},{"s":"c","x":2200,"y":0.75},
{"s":"d","x":900,"y":0.02},{"s":"d","x":950,"y":0.018},{"s":"d","x":1000,"y":0.045},{"s":"d","x":1050,"y":0.08},{"s":"d","x":1100,"y":0.115},{"s":"d","x":1150,"y":0.165},{"s":"d","x":1200,"y":0.225},{"s":"d","x":1250,"y":0.3},{"s":"d","x":1300,"y":0.41},{"s":"d","x":1320,"y":0.51},{"s":"d","x":1340,"y":0.6},{"s":"d","x":1350,"y":0.64},{"s":"d","x":1360,"y":0.63},{"s":"d","x":1380,"y":0.55},{"s":"d","x":1400,"y":0.45},{"s":"d","x":1450,"y":0.38},{"s":"d","x":1500,"y":0.4},{"s":"d","x":1550,"y":0.47},{"s":"d","x":1570,"y":0.6},{"s":"d","x":1590,"y":0.84},{"s":"d","x":1600,"y":0.9},{"s":"d","x":1610,"y":0.87},{"s":"d","x":1630,"y":0.6},{"s":"d","x":1660,"y":0.42},{"s":"d","x":1700,"y":0.37},{"s":"d","x":1750,"y":0.37},{"s":"d","x":1800,"y":0.38},{"s":"d","x":1850,"y":0.4},{"s":"d","x":1900,"y":0.43},{"s":"d","x":1950,"y":0.45},{"s":"d","x":2000,"y":0.47},{"s":"d","x":2050,"y":0.49},{"s":"d","x":2100,"y":0.51},{"s":"d","x":2150,"y":0.53},{"s":"d","x":2200,"y":0.55},
{"s":"e","x":900,"y":0.02},{"s":"e","x":950,"y":0.018},{"s":"e","x":1000,"y":0.045},{"s":"e","x":1050,"y":0.078},{"s":"e","x":1100,"y":0.112},{"s":"e","x":1150,"y":0.16},{"s":"e","x":1200,"y":0.215},{"s":"e","x":1250,"y":0.285},{"s":"e","x":1300,"y":0.38},{"s":"e","x":1320,"y":0.47},{"s":"e","x":1340,"y":0.54},{"s":"e","x":1350,"y":0.57},{"s":"e","x":1360,"y":0.56},{"s":"e","x":1380,"y":0.48},{"s":"e","x":1400,"y":0.4},{"s":"e","x":1450,"y":0.33},{"s":"e","x":1500,"y":0.36},{"s":"e","x":1550,"y":0.44},{"s":"e","x":1570,"y":0.57},{"s":"e","x":1590,"y":0.8},{"s":"e","x":1600,"y":0.86},{"s":"e","x":1610,"y":0.82},{"s":"e","x":1630,"y":0.56},{"s":"e","x":1660,"y":0.4},{"s":"e","x":1700,"y":0.35},{"s":"e","x":1750,"y":0.34},{"s":"e","x":1800,"y":0.35},{"s":"e","x":1850,"y":0.37},{"s":"e","x":1900,"y":0.39},{"s":"e","x":1950,"y":0.41},{"s":"e","x":2000,"y":0.43},{"s":"e","x":2050,"y":0.45},{"s":"e","x":2100,"y":0.47},{"s":"e","x":2150,"y":0.49},{"s":"e","x":2200,"y":0.51},
{"s":"f","x":900,"y":0.02},{"s":"f","x":950,"y":0.015},{"s":"f","x":1000,"y":0.04},{"s":"f","x":1050,"y":0.07},{"s":"f","x":1100,"y":0.1},{"s":"f","x":1150,"y":0.14},{"s":"f","x":1200,"y":0.17},{"s":"f","x":1250,"y":0.2},{"s":"f","x":1300,"y":0.19},{"s":"f","x":1320,"y":0.22},{"s":"f","x":1340,"y":0.26},{"s":"f","x":1350,"y":0.27},{"s":"f","x":1360,"y":0.26},{"s":"f","x":1380,"y":0.25},{"s":"f","x":1400,"y":0.26},{"s":"f","x":1450,"y":0.28},{"s":"f","x":1500,"y":0.3},{"s":"f","x":1550,"y":0.34},{"s":"f","x":1570,"y":0.45},{"s":"f","x":1590,"y":0.68},{"s":"f","x":1600,"y":0.78},{"s":"f","x":1610,"y":0.74},{"s":"f","x":1630,"y":0.48},{"s":"f","x":1660,"y":0.32},{"s":"f","x":1700,"y":0.26},{"s":"f","x":1750,"y":0.25},{"s":"f","x":1800,"y":0.25},{"s":"f","x":1850,"y":0.26},{"s":"f","x":1900,"y":0.27},{"s":"f","x":1950,"y":0.29},{"s":"f","x":2000,"y":0.3},{"s":"f","x":2050,"y":0.32},{"s":"f","x":2100,"y":0.33},{"s":"f","x":2150,"y":0.35},{"s":"f","x":2200,"y":0.36},
{"s":"g","x":900,"y":0.02},{"s":"g","x":950,"y":0.018},{"s":"g","x":1000,"y":0.045},{"s":"g","x":1050,"y":0.08},{"s":"g","x":1100,"y":0.115},{"s":"g","x":1150,"y":0.165},{"s":"g","x":1200,"y":0.22},{"s":"g","x":1250,"y":0.29},{"s":"g","x":1300,"y":0.4},{"s":"g","x":1320,"y":0.49},{"s":"g","x":1340,"y":0.57},{"s":"g","x":1350,"y":0.6},{"s":"g","x":1360,"y":0.59},{"s":"g","x":1380,"y":0.52},{"s":"g","x":1400,"y":0.44},{"s":"g","x":1450,"y":0.36},{"s":"g","x":1500,"y":0.38},{"s":"g","x":1550,"y":0.45},{"s":"g","x":1570,"y":0.58},{"s":"g","x":1590,"y":0.82},{"s":"g","x":1600,"y":0.88},{"s":"g","x":1610,"y":0.84},{"s":"g","x":1630,"y":0.58},{"s":"g","x":1660,"y":0.4},{"s":"g","x":1700,"y":0.34},{"s":"g","x":1750,"y":0.34},{"s":"g","x":1800,"y":0.35},{"s":"g","x":1850,"y":0.37},{"s":"g","x":1900,"y":0.39},{"s":"g","x":1950,"y":0.41},{"s":"g","x":2000,"y":0.43},{"s":"g","x":2050,"y":0.44},{"s":"g","x":2100,"y":0.45},{"s":"g","x":2150,"y":0.46},{"s":"g","x":2200,"y":0.47},
{"s":"h","x":900,"y":0.02},{"s":"h","x":950,"y":0.02},{"s":"h","x":1000,"y":0.05},{"s":"h","x":1050,"y":0.085},{"s":"h","x":1100,"y":0.12},{"s":"h","x":1150,"y":0.175},{"s":"h","x":1200,"y":0.24},{"s":"h","x":1250,"y":0.33},{"s":"h","x":1300,"y":0.46},{"s":"h","x":1320,"y":0.58},{"s":"h","x":1340,"y":0.7},{"s":"h","x":1350,"y":0.75},{"s":"h","x":1360,"y":0.73},{"s":"h","x":1380,"y":0.62},{"s":"h","x":1400,"y":0.5},{"s":"h","x":1450,"y":0.42},{"s":"h","x":1500,"y":0.44},{"s":"h","x":1550,"y":0.52},{"s":"h","x":1570,"y":0.66},{"s":"h","x":1590,"y":0.9},{"s":"h","x":1600,"y":0.96},{"s":"h","x":1610,"y":0.92},{"s":"h","x":1630,"y":0.66},{"s":"h","x":1660,"y":0.5},{"s":"h","x":1700,"y":0.46},{"s":"h","x":1750,"y":0.47},{"s":"h","x":1800,"y":0.5},{"s":"h","x":1850,"y":0.53},{"s":"h","x":1900,"y":0.57},{"s":"h","x":1950,"y":0.6},{"s":"h","x":2000,"y":0.63},{"s":"h","x":2050,"y":0.65},{"s":"h","x":2100,"y":0.68},{"s":"h","x":2150,"y":0.7},{"s":"h","x":2200,"y":0.72}
]
},
"concat": [
{
"title": {"text": "Cluster 0"},
"width": 580, "height": 276,
"encoding": {
"x": {"field": "x", "type": "quantitative", "scale": {"domain": [835, 2265], "nice": false, "zero": false}, "axis": {"values": [1000, 1200, 1400, 1600, 1800, 2000, 2200], "format": "d", "title": "Wavenumber (cm⁻¹)"}},
"y": {"field": "y", "type": "quantitative", "scale": {"domain": [-0.048, 1.042], "nice": false, "zero": false}, "axis": {"values": [0, 0.2, 0.4, 0.6, 0.8, 1], "format": ".1f", "title": "Normalized Intensity"}}
},
"layer": [
{"data": {"name": "f0"}, "mark": {"type": "line", "color": "#1f77b4", "strokeWidth": 1, "opacity": 0.22, "clip": true}, "encoding": {"detail": {"field": "s"}}},
{"data": {"name": "m0"}, "mark": {"type": "line", "strokeWidth": 3, "clip": true}, "encoding": {"color": {"datum": "Pseudospectrum (N=15)", "type": "nominal", "scale": {"domain": ["Pseudospectrum (N=15)"], "range": ["#1f77b4"]}, "legend": {"title": null}}}}
]
},
{
"title": {"text": "Cluster 1"},
"width": 580, "height": 276,
"encoding": {
"x": {"field": "x", "type": "quantitative", "scale": {"domain": [835, 2265], "nice": false, "zero": false}, "axis": {"values": [1000, 1200, 1400, 1600, 1800, 2000, 2200], "format": "d", "title": "Wavenumber (cm⁻¹)"}},
"y": {"field": "y", "type": "quantitative", "scale": {"domain": [-0.048, 1.042], "nice": false, "zero": false}, "axis": {"values": [0, 0.2, 0.4, 0.6, 0.8, 1], "format": ".1f", "title": "Normalized Intensity"}}
},
"layer": [
{"data": {"name": "f1"}, "mark": {"type": "line", "color": "#d62728", "strokeWidth": 1, "opacity": 0.22, "clip": true}, "encoding": {"detail": {"field": "s"}}},
{"data": {"name": "m1"}, "mark": {"type": "line", "strokeWidth": 3, "clip": true}, "encoding": {"color": {"datum": "Pseudospectrum (N=30)", "type": "nominal", "scale": {"domain": ["Pseudospectrum (N=30)"], "range": ["#d62728"]}, "legend": {"title": null}}}}
]
},
{
"title": {"text": "Cluster 2"},
"width": 580, "height": 276,
"encoding": {
"x": {"field": "x", "type": "quantitative", "scale": {"domain": [835, 2265], "nice": false, "zero": false}, "axis": {"values": [1000, 1200, 1400, 1600, 1800, 2000, 2200], "format": "d", "title": "Wavenumber (cm⁻¹)"}},
"y": {"field": "y", "type": "quantitative", "scale": {"domain": [-0.048, 1.042], "nice": false, "zero": false}, "axis": {"values": [0, 0.2, 0.4, 0.6, 0.8, 1], "format": ".1f", "title": "Normalized Intensity"}}
},
"layer": [
{"data": {"name": "f2"}, "mark": {"type": "line", "color": "#e377c2", "strokeWidth": 1, "opacity": 0.22, "clip": true}, "encoding": {"detail": {"field": "s"}}},
{"data": {"name": "m2"}, "mark": {"type": "line", "strokeWidth": 3, "clip": true}, "encoding": {"color": {"datum": "Pseudospectrum (N=42)", "type": "nominal", "scale": {"domain": ["Pseudospectrum (N=42)"], "range": ["#e377c2"]}, "legend": {"title": null}}}}
]
},
{
"title": {"text": "Cluster 3"},
"width": 580, "height": 276,
"encoding": {
"x": {"field": "x", "type": "quantitative", "scale": {"domain": [835, 2265], "nice": false, "zero": false}, "axis": {"values": [1000, 1200, 1400, 1600, 1800, 2000, 2200], "format": "d", "title": "Wavenumber (cm⁻¹)"}},
"y": {"field": "y", "type": "quantitative", "scale": {"domain": [-0.049, 1.029], "nice": false, "zero": false}, "axis": {"values": [0, 0.2, 0.4, 0.6, 0.8, 1], "format": ".1f", "title": "Normalized Intensity"}}
},
"layer": [
{"data": {"name": "f3"}, "mark": {"type": "line", "color": "#17becf", "strokeWidth": 1, "opacity": 0.22, "clip": true}, "encoding": {"detail": {"field": "s"}}},
{"data": {"name": "m3"}, "mark": {"type": "line", "strokeWidth": 3, "clip": true}, "encoding": {"color": {"datum": "Pseudospectrum (N=9)", "type": "nominal", "scale": {"domain": ["Pseudospectrum (N=9)"], "range": ["#17becf"]}, "legend": {"title": null}}}}
]
}
],
"config": {
"font": "DejaVu Sans",
"view": {"stroke": "#333333", "strokeWidth": 1},
"title": {"font": "DejaVu Sans", "fontSize": 14, "fontWeight": "bold", "color": "#000000", "offset": 5},
"axis": {"domain": false, "labelFont": "DejaVu Sans", "labelFontSize": 12, "labelColor": "#262626", "titleFont": "DejaVu Sans", "titleFontSize": 11, "titleFontWeight": "normal", "titleColor": "#262626", "tickColor": "#333333", "tickSize": 5, "tickWidth": 1, "labelPadding": 4, "titlePadding": 6, "grid": true, "gridColor": "#cccccc", "gridDash": [3, 2], "gridWidth": 0.8},
"axisY": {"titlePadding": 8},
"legend": {"orient": "top-right", "offset": 6, "padding": 4, "fillColor": "rgba(255,255,255,0.8)", "strokeColor": "#cccccc", "cornerRadius": 3, "labelFont": "DejaVu Sans", "labelFontSize": 12.5, "labelColor": "#222222", "labelOffset": 15, "symbolOffset": 7, "symbolType": "M-2,0H2", "symbolSize": 225, "symbolStrokeWidth": 3.5}
}
}
